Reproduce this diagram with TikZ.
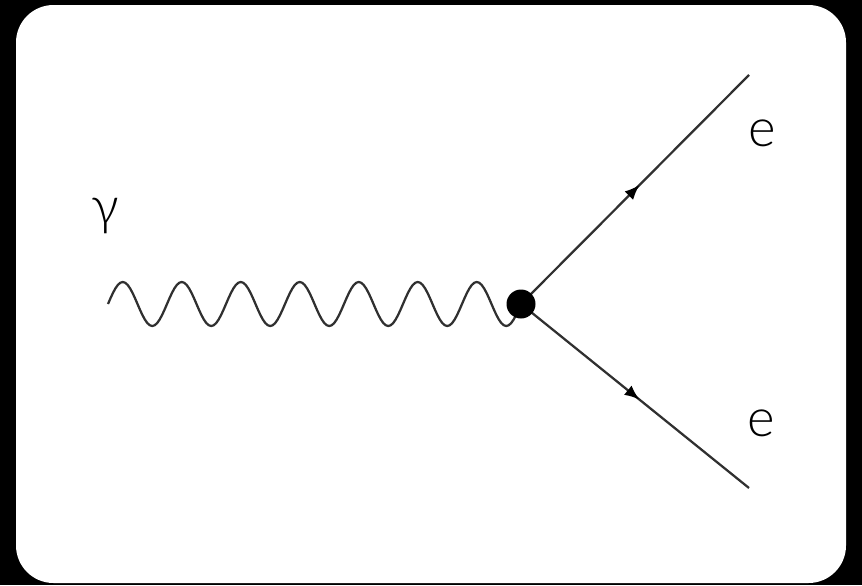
\documentclass[tikz,border=0pt]{standalone}
\usepackage{fontspec}
\usepackage{tikz}
\usetikzlibrary{arrows.meta,decorations.markings}
\newfontfamily\lightfont{Lato Light}
\definecolor{LineGray}{HTML}{303030}

\begin{document}
\begin{tikzpicture}[x=0.02cm,y=-0.02cm]
  \tikzset{
    fermion/.style={draw=LineGray,line width=0.045cm,postaction={decorate},
      decoration={markings,mark=at position 0.52 with {\arrow[black]{Latex[length=0.3cm,width=0.24cm]}}}},
    photon/.style={draw=LineGray,line width=0.045cm,line join=round},
    particle/.style={font=\lightfont\fontsize{30}{30}\selectfont,text=black,inner sep=0pt}
  }
  \fill[black] (0,0) rectangle (862,585);
  \fill[white,rounded corners=0.75cm] (16,5) rectangle (846,583);
  \useasboundingbox (0,0) rectangle (862,585);

  \coordinate (wavestart) at (108,304);
  \coordinate (vertex) at (521,304);
  \coordinate (outtop) at (749,75);
  \coordinate (outbottom) at (749,488);

  % seven periods of 59 run from wavestart to vertex
  \draw[photon,shift={(wavestart)}] plot[domain=0:7,samples=169] ({59*\x},{-22*sin(360*\x)});
  \draw[fermion] (vertex) -- (outtop);
  \draw[fermion] (vertex) -- (outbottom);
  \node[circle,fill=black,minimum size=0.58cm,inner sep=0pt] (dot) at (vertex) {};

  \node[particle] (gamma) at (105,216) {γ};
  \node[particle] (etop) at (762,133) {e};
  \node[particle] (ebottom) at (761,423) {e};
\end{tikzpicture}
\end{document}
